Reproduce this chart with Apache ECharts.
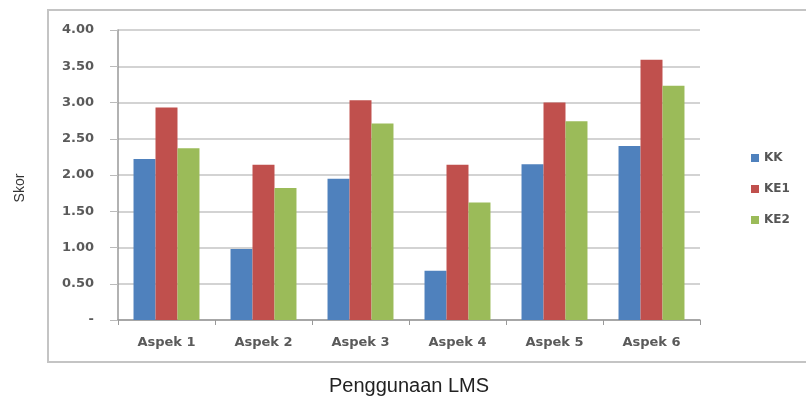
<!DOCTYPE html>
<html>
<head>
<meta charset="utf-8">
<script src="https://cdn.jsdelivr.net/npm/echarts@6/dist/echarts.min.js"></script>
<style>html,body{margin:0;padding:0;background:#fff;}#c{width:806px;height:401px;}</style>
</head>
<body>
<div id="c"></div>
<script>
const categories = ['Aspek 1','Aspek 2','Aspek 3','Aspek 4','Aspek 5','Aspek 6'];
const seriesNames = ['KK','KE1','KE2'];
const kk  = [2.22, 0.98, 1.95, 0.68, 2.15, 2.40];
const ke1 = [2.93, 2.14, 3.03, 2.14, 3.00, 3.59];
const ke2 = [2.37, 1.82, 2.71, 1.62, 2.74, 3.23];
const colors = ['#4F81BD','#C0504D','#9BBB59'];

const chart = echarts.init(document.getElementById('c'), null, {renderer:'canvas'});
const labelStyle = {color:'#5a5a5a', fontFamily:'DejaVu Sans', fontSize:13, fontWeight:'bold'};
chart.setOption({
  animation:false,
  color: colors,
  graphic:[
    {type:'rect', shape:{x:48,y:10,width:800,height:352}, style:{fill:'none', stroke:'#c4c4c4', lineWidth:2}, silent:true},
    {type:'text', x:20, y:188, rotation:Math.PI/2, style:{text:'Skor', fill:'#333', font:'14px "Liberation Sans"', textAlign:'center', textVerticalAlign:'middle'}, silent:true}
  ],
  grid:{left:118, top:30, right:106, bottom:79},
  legend:{
    orient:'vertical', left:746, top:147, itemGap:19, itemWidth:8, itemHeight:8, icon:'rect',
    data: seriesNames,
    textStyle:{color:'#555', fontFamily:'DejaVu Sans', fontSize:12, fontWeight:'bold'}
  },
  xAxis:{
    type:'category', data: categories,
    name:'Penggunaan LMS', nameLocation:'middle', nameGap:56,
    nameTextStyle:{color:'#222', fontFamily:'Liberation Sans', fontSize:20},
    axisLine:{lineStyle:{color:'#999', width:1.5}},
    axisTick:{show:true, length:5, lineStyle:{color:'#999'}},
    axisLabel:Object.assign({margin:16}, labelStyle)
  },
  yAxis:{
    type:'value', min:0, max:4, interval:0.5,
    axisLine:{show:true, lineStyle:{color:'#999', width:1.5}},
    axisTick:{show:true, length:8, lineStyle:{color:'#bbb'}},
    splitLine:{lineStyle:{color:'#c4c4c4', width:1.5}},
    axisLabel:Object.assign({margin:24, formatter:v => v===0 ? '-' : v.toFixed(2)}, labelStyle)
  },
  series:[
    {name:seriesNames[0], type:'bar', data:kk, barGap:'0%', barCategoryGap:'32%'},
    {name:seriesNames[1], type:'bar', data:ke1, barGap:'0%', barCategoryGap:'32%'},
    {name:seriesNames[2], type:'bar', data:ke2, barGap:'0%', barCategoryGap:'32%'}
  ]
});
</script>
</body>
</html>
